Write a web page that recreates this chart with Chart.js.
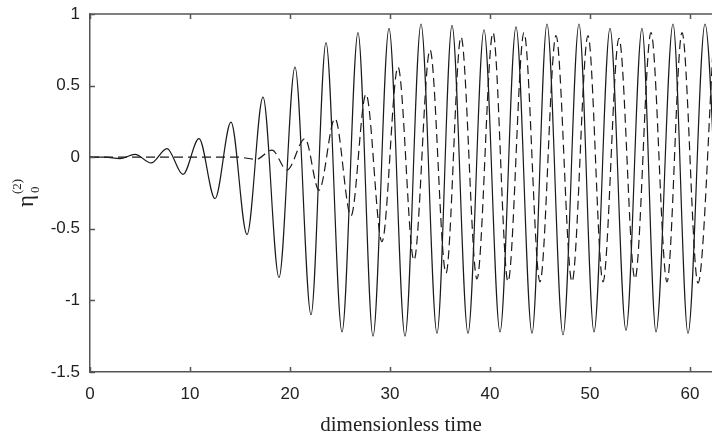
<!DOCTYPE html>
<html>
<head>
<meta charset="utf-8">
<script src="https://cdn.jsdelivr.net/npm/chart.js@4/dist/chart.umd.min.js"></script>
<style>
  html, body { margin: 0; padding: 0; background: #fff; }
  #wrap { width: 712px; height: 436px; position: relative; }
</style>
</head>
<body>
<div id="wrap"><canvas id="waveChart"></canvas></div>
<script>
// peaks and troughs (time, eta)
var solidTime = [0, 1.5, 3.0, 4.5, 6.1, 7.7, 9.3, 10.9, 12.5, 14.1, 15.7, 17.3, 18.9, 20.5, 22.1, 23.6, 25.2, 26.8, 28.3, 29.9,
                 31.5, 33.1, 34.7, 36.2, 37.8, 39.4, 41.0, 42.6, 44.2, 45.7, 47.3, 48.9, 50.4, 52.0, 53.6, 55.2, 56.6, 58.3, 59.8, 61.5, 63.1];
var solidEta = [0, 0, -0.01, 0.02, -0.04, 0.06, -0.12, 0.13, -0.29, 0.245, -0.54, 0.42, -0.84, 0.63, -1.10, 0.80, -1.22, 0.87, -1.25, 0.90,
                -1.25, 0.93, -1.23, 0.92, -1.23, 0.89, -1.22, 0.91, -1.23, 0.93, -1.24, 0.93, -1.22, 0.90, -1.21, 0.90, -1.22, 0.93, -1.23, 0.93, -1.23];

var dashedTime = [0, 14.8, 16.6, 18.2, 19.7, 21.5, 22.9, 24.5, 26.1, 27.6, 29.2, 30.8, 32.4, 34.0, 35.6, 37.1, 38.7, 40.3, 41.8, 43.4,
                  45.0, 46.6, 48.2, 49.8, 51.3, 52.9, 54.5, 56.1, 57.7, 59.2, 60.8, 62.4];
var dashedEta = [0, 0, -0.015, 0.05, -0.09, 0.13, -0.23, 0.27, -0.41, 0.44, -0.59, 0.63, -0.72, 0.75, -0.81, 0.84, -0.85, 0.87, -0.87, 0.87,
                 -0.87, 0.85, -0.87, 0.85, -0.87, 0.83, -0.85, 0.87, -0.87, 0.87, -0.88, 0.87];

var xTicks = [0, 10, 20, 30, 40, 50, 60];
var yTicks = [-1.5, -1, -0.5, 0, 0.5, 1];

var xTitle = 'dimensionless time';

function toPoints(xs, ys) {
    var pts = [];
    for (var i = 0; i < xs.length; i++) {
        pts.push({ x: xs[i], y: ys[i] });
    }
    return pts;
}

var axisColor = '#555';
var lineColor = '#1a1a1a';

// frame bits: top border, inward tick marks, and the eta label
var framePlugin = {
    id: 'frame',
    afterDraw: function(chart) {
        var ctx = chart.ctx;
        var area = chart.chartArea;
        var xs = chart.scales.x, ys = chart.scales.y;
        ctx.save();
        ctx.strokeStyle = axisColor;
        ctx.lineWidth = 1.5;
        ctx.beginPath();
        ctx.moveTo(area.left, area.top);
        ctx.lineTo(area.right, area.top);
        xTicks.forEach(function(v) {
            var px = Math.round(xs.getPixelForValue(v)) + 0.5;
            ctx.moveTo(px, area.bottom);
            ctx.lineTo(px, area.bottom - 5);
            ctx.moveTo(px, area.top);
            ctx.lineTo(px, area.top + 5);
        });
        yTicks.forEach(function(v) {
            var py = Math.round(ys.getPixelForValue(v)) + 0.5;
            ctx.moveTo(area.left, py);
            ctx.lineTo(area.left + 5, py);
        });
        ctx.stroke();

        // eta_0^(2), rotated
        var cy = (area.top + area.bottom) / 2;
        ctx.translate(33, cy + 2);
        ctx.rotate(-Math.PI / 2);
        ctx.fillStyle = '#222';
        ctx.textBaseline = 'alphabetic';
        ctx.textAlign = 'left';
        ctx.font = '23px "Liberation Serif"';
        ctx.fillText('\u03B7', -12, 0);
        ctx.font = '13px "Liberation Serif"';
        ctx.fillText('(2)', 1, -12);
        ctx.fillText('0', 2, 6);
        ctx.restore();
    }
};

new Chart(document.getElementById('waveChart'), {
    type: 'line',
    data: {
        datasets: [{
            label: 'solid',
            data: toPoints(solidTime, solidEta),
            borderColor: lineColor,
            borderWidth: 1.2,
            pointRadius: 0,
            cubicInterpolationMode: 'monotone',
            fill: false
        }, {
            label: 'dashed',
            data: toPoints(dashedTime, dashedEta),
            borderColor: lineColor,
            borderWidth: 1.2,
            borderDash: [9, 5],
            pointRadius: 0,
            cubicInterpolationMode: 'monotone',
            fill: false
        }]
    },
    options: {
        responsive: true,
        maintainAspectRatio: false,
        animation: false,
        layout: { padding: { top: 14, right: 0, bottom: 0, left: 0 } },
        plugins: {
            legend: { display: false },
            tooltip: { enabled: false }
        },
        scales: {
            x: {
                type: 'linear',
                min: 0,
                max: 62.2,
                grid: { display: false, drawTicks: false },
                border: { display: true, color: axisColor, width: 1.5 },
                ticks: {
                    stepSize: 10,
                    includeBounds: false,
                    autoSkip: false,
                    maxRotation: 0,
                    padding: 12,
                    color: '#222',
                    font: { family: '"Liberation Sans", Arial, sans-serif', size: 17 }
                },
                title: {
                    display: true,
                    text: xTitle,
                    color: '#222',
                    font: { family: '"Liberation Serif", "Times New Roman", serif', size: 21 },
                    padding: { top: 4, bottom: -2 }
                },
                afterFit: function(scale) {
                    scale.height = 64;
                    scale.paddingLeft = 0;
                    scale.paddingRight = 0;
                }
            },
            y: {
                min: -1.5,
                max: 1,
                grid: { display: false, drawTicks: false },
                border: { display: true, color: axisColor, width: 1.5 },
                ticks: {
                    stepSize: 0.5,
                    padding: 10,
                    color: '#222',
                    font: { family: '"Liberation Sans", Arial, sans-serif', size: 17 },
                    callback: function(v) { return String(v); }
                },
                afterFit: function(scale) {
                    scale.width = 90;
                    scale.paddingTop = 0;
                    scale.paddingBottom = 0;
                }
            }
        }
    },
    plugins: [framePlugin]
});
</script>
</body>
</html>
